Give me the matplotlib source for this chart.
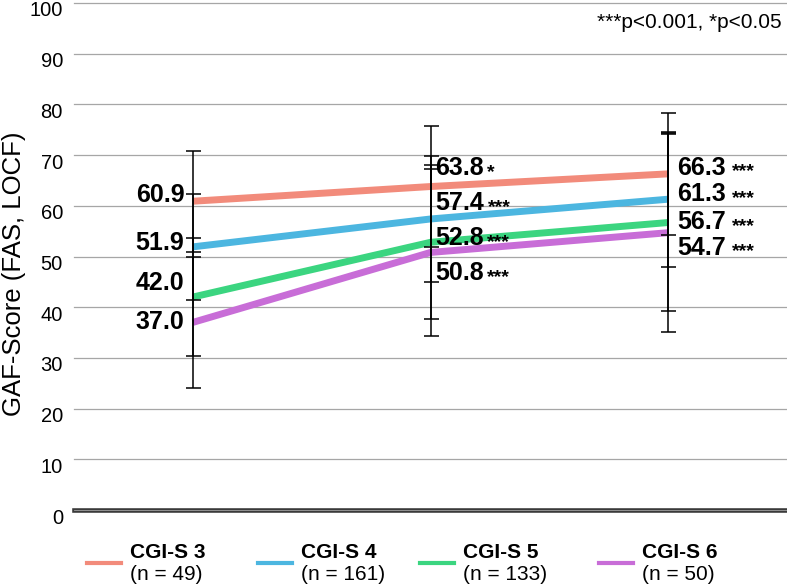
import matplotlib
matplotlib.use("Agg")
import matplotlib.pyplot as plt
import matplotlib.transforms as mtransforms
from matplotlib.lines import Line2D

plt.rcParams['font.family'] = ['Liberation Sans', 'DejaVu Sans']

visits = [0, 1, 2]
groups = ["CGI-S 3", "CGI-S 4", "CGI-S 5", "CGI-S 6"]
n_text = ["(n = 49)", "(n = 161)", "(n = 133)", "(n = 50)"]
means = [
    [60.9, 63.8, 66.3],
    [51.9, 57.4, 61.3],
    [42.0, 52.8, 56.7],
    [37.0, 50.8, 54.7],
]
sds = [
    [10.0, 11.9, 12.0],
    [10.4, 12.4, 13.3],
    [11.6, 15.2, 17.5],
    [13.0, 16.5, 19.6],
]
stars = [
    ["", "*", "***"],
    ["", "***", "***"],
    ["", "***", "***"],
    ["", "***", "***"],
]
colors = ["#f28b7b", "#4cb6e0", "#3bd580", "#c86dd7"]

# label nudges (data units) so the numbers don't collide
lab_dy = [
    [1.2, 3.6, 1.2],
    [0.8, 3.1, 1.0],
    [2.8, 0.8, 0.1],
    [0.1, -4.1, -3.0],
]
lab_dx = [-6, 3.5, 6.5]       # points
lab_ha = ["right", "left", "left"]
star_gap = [0, 2.5, 4.5]

W, H = 787, 586
fig = plt.figure(figsize=(W / 100, H / 100), dpi=100)
ax = fig.add_axes([74 / W, 1 - 510 / H, 1 - 74 / W, (510 - 3) / H])

for i in range(len(groups)):
    ax.plot(visits, means[i], color=colors[i], lw=5, solid_capstyle="butt", zorder=2)
    ax.errorbar(visits, means[i], yerr=sds[i], fmt="none", ecolor="black",
                elinewidth=1.1, capsize=5.4, capthick=1.1, zorder=3)

for i in range(len(groups)):
    for j in visits:
        t = ax.annotate(f"{means[i][j]:.1f}", xy=(j, means[i][j] + lab_dy[i][j]),
                        xytext=(lab_dx[j], 0), textcoords="offset points",
                        ha=lab_ha[j], va="center", fontsize=18, fontweight="bold",
                        zorder=4)
        if stars[i][j]:
            ax.annotate(stars[i][j], xy=(1, 0.5), xycoords=t,
                        xytext=(star_gap[j], -3), textcoords="offset points",
                        ha="left", va="center", fontsize=14, fontweight="bold",
                        zorder=4)

ax.set_xlim(-0.5, 2.5)
ax.set_ylim(0, 100)
ax.set_yticks(range(0, 101, 10))
ax.set_xticks([])
ax.tick_params(axis="y", length=0, pad=8, labelsize=14.5)
# tick labels sit a little below their gridlines in the original
shift = mtransforms.ScaledTranslation(0, -6 / 100, fig.dpi_scale_trans)
for lab in ax.get_yticklabels():
    lab.set_transform(lab.get_transform() + shift)
ax.grid(axis="y", color="#a6a6a6", lw=0.9)
for gl in ax.get_ygridlines():
    gl.set_clip_on(False)
ax.set_axisbelow(True)
for s in ax.spines.values():
    s.set_visible(False)

# double baseline at zero
ax.axhline(0, color="#3a3a3a", lw=3.3, clip_on=False, zorder=1)
ax.axhline(0, color="#a0a0a0", lw=0.6, clip_on=False, zorder=1)

ax.set_ylabel("GAF-Score (FAS, LOCF)", fontsize=18.5)
ax.yaxis.set_label_coords(-0.067, 0.465)

fig.text(782 / W, 1 - 23 / H, "***p<0.001, *p<0.05", ha="right", va="center",
         fontsize=15)

# legend drawn by hand: bold group name over regular n
leg_x = [87, 258, 420, 599]
for k in range(len(groups)):
    x0 = leg_x[k]
    fig.add_artist(Line2D([x0 / W, (x0 + 34) / W], [1 - 563 / H] * 2,
                          color=colors[k], lw=3, transform=fig.transFigure))
    fig.text((x0 + 43) / W, 1 - 552 / H, groups[k], ha="left", va="center",
             fontsize=15, fontweight="bold")
    fig.text((x0 + 43) / W, 1 - 575 / H, n_text[k], ha="left", va="center",
             fontsize=15)

fig.savefig("out.png", dpi=100)
